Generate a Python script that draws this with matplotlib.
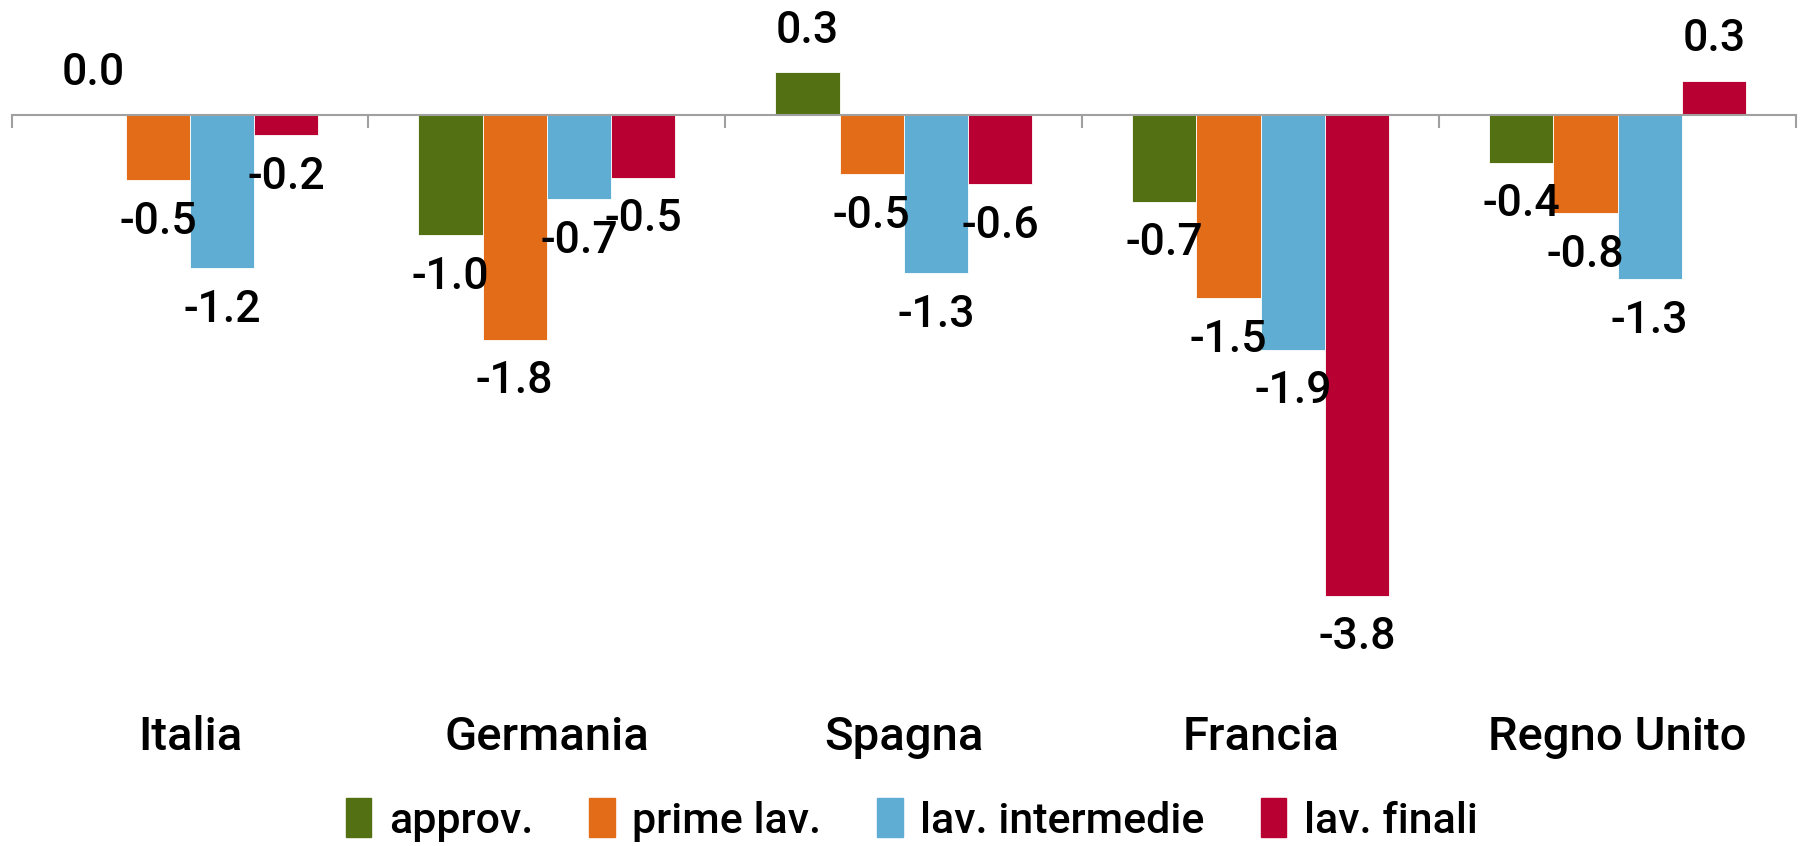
import numpy as np
import matplotlib
matplotlib.use("Agg")
import matplotlib.pyplot as plt
from matplotlib import font_manager
from matplotlib.patches import Patch

categories = ["Italia", "Germania", "Spagna", "Francia", "Regno Unito"]
series = ["approv.", "prime lav.", "lav. intermedie", "lav. finali"]
approv = [0.0, -0.96, 0.34, -0.69, -0.38]
prime_lav = [-0.52, -1.79, -0.47, -1.46, -0.78]
lav_intermedie = [-1.22, -0.67, -1.26, -1.87, -1.31]
lav_finali = [-0.16, -0.50, -0.55, -3.83, 0.27]
colors = ["#537112", "#E36C18", "#5FADD3", "#B80032"]

names = {f.name for f in font_manager.fontManager.ttflist}
family = "Liberation Sans Narrow" if "Liberation Sans Narrow" in names else "Roboto"
plt.rcParams["font.family"] = [family, "DejaVu Sans"]
plt.rcParams["font.weight"] = "medium"

W, H = 1805, 846
fig = plt.figure(figsize=(W / 100, H / 100), dpi=100)
ax = fig.add_axes([11.5 / W, 0, (1796 - 11.5) / W, 1])

px_per_unit = 125.5
zero_px = 115
ax.set_ylim(-(H - zero_px) / px_per_unit, zero_px / px_per_unit)
ax.set_xlim(-0.5, len(categories) - 0.5)

x = np.arange(len(categories))
width = 0.18
data = [approv, prime_lav, lav_intermedie, lav_finali]
for i, (vals, c) in enumerate(zip(data, colors)):
    xs = x + (i - 1.5) * width
    ax.bar(xs, vals, width, color=c, edgecolor="white", linewidth=0.6, zorder=2)
    for xi, v in zip(xs, vals):
        off = 30 if v >= 0 else -30
        ax.annotate(f"{v:.1f}", (xi, v), xytext=(0, off), textcoords="offset points",
                    ha="center", va="center", fontsize=32)

for s in ["top", "right", "left"]:
    ax.spines[s].set_visible(False)
ax.spines["bottom"].set_position(("data", 0))
ax.spines["bottom"].set_color("#A0A0A0")
ax.spines["bottom"].set_linewidth(1.5)
ax.spines["bottom"].set_zorder(3)
ax.set_yticks([])
ax.set_xticks(np.arange(len(categories) + 1) - 0.5)
ax.set_xticklabels([])
ax.tick_params(axis="x", direction="out", length=9, width=1.5, color="#A0A0A0")

label_y = -(737 - zero_px) / px_per_unit
for xi, name in zip(x, categories):
    ax.text(xi, label_y, name, ha="center", va="center", fontsize=34)

handles = [Patch(color=c, label=s) for c, s in zip(colors, series)]
fig.legend(handles=handles, loc="center", bbox_to_anchor=(0.505, 1 - 820 / H), ncol=4,
           frameon=False, fontsize=31, handlelength=0.6, handleheight=1.0,
           handletextpad=0.4, columnspacing=1.3)

fig.savefig("out.png", dpi=100)
